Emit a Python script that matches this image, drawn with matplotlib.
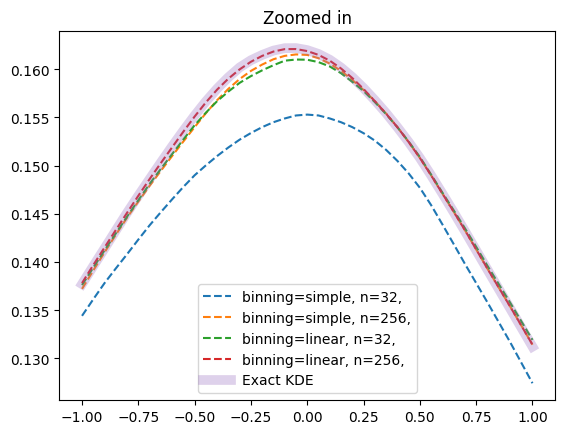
import numpy as np
import matplotlib
matplotlib.use('Agg')
import matplotlib.pyplot as plt

# values, every 0.05 on x
x = [-1.0, -0.95, -0.9, -0.85, -0.8, -0.75, -0.7, -0.65, -0.6, -0.55, -0.5,
     -0.45, -0.4, -0.35, -0.3, -0.25, -0.2, -0.15, -0.1, -0.05, 0.0,
     0.05, 0.1, 0.15, 0.2, 0.25, 0.3, 0.35, 0.4, 0.45, 0.5,
     0.55, 0.6, 0.65, 0.7, 0.75, 0.8, 0.85, 0.9, 0.95, 1.0]
simple_32 = [0.1344, 0.13612, 0.1378, 0.13932, 0.1408, 0.14232, 0.1438, 0.14517, 0.1465, 0.14779, 0.1490,
             0.15003, 0.1510, 0.15189, 0.1527, 0.15339, 0.1540, 0.15451, 0.1549, 0.15521, 0.1553,
             0.15521, 0.1549, 0.15451, 0.1540, 0.15337, 0.1526, 0.15164, 0.1505, 0.14920, 0.1477,
             0.14590, 0.1439, 0.14186, 0.1398, 0.13780, 0.1358, 0.13375, 0.1317, 0.12955, 0.1274]
simple_256 = [0.1372, 0.13911, 0.1410, 0.14282, 0.1446, 0.14627, 0.1479, 0.14946, 0.1510, 0.15251, 0.1540,
              0.15545, 0.1568, 0.15798, 0.1590, 0.15984, 0.1605, 0.16105, 0.1614, 0.16155, 0.1615,
              0.16116, 0.1606, 0.15984, 0.1589, 0.15786, 0.1567, 0.15541, 0.1540, 0.15246, 0.1508,
              0.14899, 0.1471, 0.14522, 0.1433, 0.14130, 0.1393, 0.13735, 0.1354, 0.13341, 0.1314]
linear_32 = [0.1376, 0.13941, 0.1412, 0.14296, 0.1447, 0.14641, 0.1481, 0.14966, 0.1512, 0.15272, 0.1542,
             0.15550, 0.1567, 0.15770, 0.1586, 0.15930, 0.1599, 0.16043, 0.1609, 0.16102, 0.1610,
             0.16075, 0.1603, 0.15960, 0.1587, 0.15775, 0.1566, 0.15535, 0.1540, 0.15251, 0.1509,
             0.14907, 0.1472, 0.14537, 0.1435, 0.14157, 0.1396, 0.13770, 0.1358, 0.13385, 0.1319]
linear_256 = [0.1378, 0.13967, 0.1415, 0.14331, 0.1451, 0.14687, 0.1486, 0.15027, 0.1519, 0.15353, 0.1551,
              0.15657, 0.1579, 0.15904, 0.1600, 0.16079, 0.1614, 0.16185, 0.1621, 0.16211, 0.1619,
              0.16150, 0.1609, 0.16009, 0.1591, 0.15796, 0.1567, 0.15540, 0.1540, 0.15246, 0.1508,
              0.14899, 0.1471, 0.14522, 0.1433, 0.14130, 0.1393, 0.13735, 0.1354, 0.13341, 0.1314]
exact = [0.1377, 0.13956, 0.1414, 0.14326, 0.1451, 0.14687, 0.1486, 0.15032, 0.1520, 0.15363, 0.1552,
         0.15667, 0.1580, 0.15918, 0.1602, 0.16095, 0.1615, 0.16195, 0.1622, 0.16221, 0.1620,
         0.16160, 0.1610, 0.16019, 0.1592, 0.15806, 0.1568, 0.15546, 0.1540, 0.15246, 0.1508,
         0.14899, 0.1471, 0.14517, 0.1432, 0.14120, 0.1392, 0.13720, 0.1352, 0.13320, 0.1312]

series = [('binning=simple, n=32,', simple_32),
          ('binning=simple, n=256,', simple_256),
          ('binning=linear, n=32,', linear_32),
          ('binning=linear, n=256,', linear_256)]

fig = plt.figure(figsize=(5.65, 4.35), dpi=100)
ax = fig.add_axes([0.1053, 0.0782, 0.8770, 0.8475])

for label, y in series:
    ax.plot(x, y, '--', label=label)
ax.plot(x, exact, color='tab:purple', alpha=0.3, lw=7, label='Exact KDE')

ax.set_title('Zoomed in')
ax.legend(loc='lower center')

plt.savefig('out.png')
